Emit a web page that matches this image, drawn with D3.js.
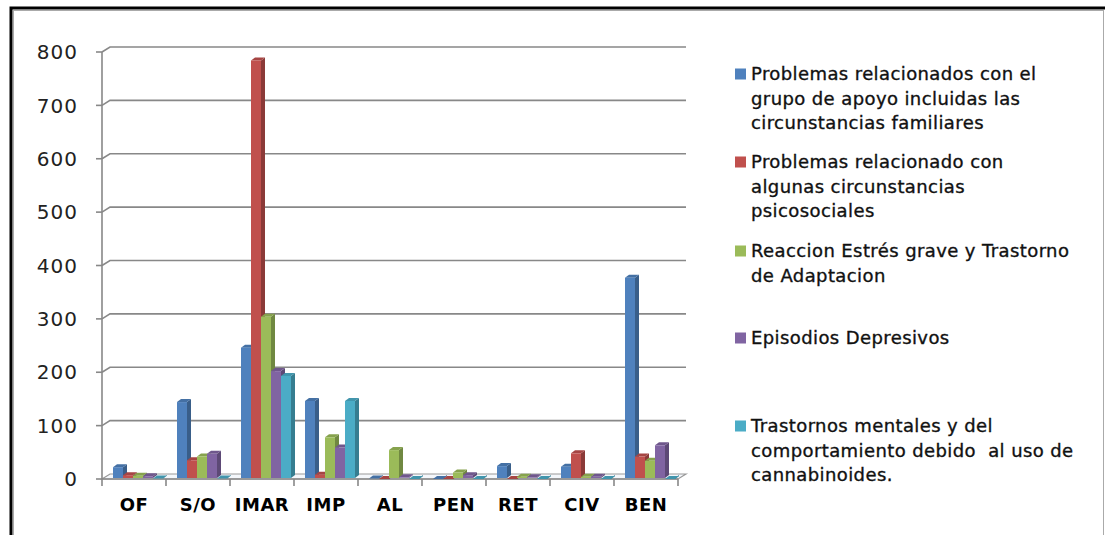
<!DOCTYPE html>
<html>
<head>
<meta charset="UTF-8" />
<script src="https://d3js.org/d3.v7.min.js"></script>
<style>
  body { margin: 0; background: #fff; }
  svg { display: block; }
</style>
</head>
<body>
<svg id="chart" width="1105" height="535"></svg>
<script>
const categories = ['OF', 'S/O', 'IMAR', 'IMP', 'AL', 'PEN', 'RET', 'CIV', 'BEN'];
const seriesNames = [
  ['Problemas relacionados con el', 'grupo de apoyo incluidas las', 'circunstancias familiares'],
  ['Problemas relacionado con', 'algunas circunstancias', 'psicosociales'],
  ['Reaccion Estrés grave y Trastorno', 'de Adaptacion'],
  ['Episodios Depresivos'],
  ['Trastornos mentales y del', 'comportamiento debido  al uso de', 'cannabinoides.']
];
const grupoApoyo = [24, 146, 248, 148, 3, 2, 26, 25, 379];
const psicosociales = [9, 37, 786, 10, 2, 2, 2, 50, 44];
const estres = [8, 44, 306, 80, 56, 14, 6, 6, 36];
const depresivos = [7, 49, 204, 61, 5, 9, 5, 6, 65];
const cannabinoides = [3, 3, 195, 148, 2, 2, 2, 2, 2];
const yTicks = [0, 100, 200, 300, 400, 500, 600, 700, 800];
const colors = ['#4f81bd', '#c0504d', '#9bbb59', '#8064a2', '#4bacc6'];

const series = [grupoApoyo, psicosociales, estres, depresivos, cannabinoides];

const svg = d3.select('#chart');

// marco
svg.append('rect').attr('x', 11).attr('y', 8).attr('width', 1100).attr('height', 540)
  .attr('fill', 'none').attr('stroke', '#000').attr('stroke-width', 3);
svg.append('rect').attr('x', 13.5).attr('y', 10.5).attr('width', 1090).attr('height', 540)
  .attr('fill', 'none').attr('stroke', '#aaa').attr('stroke-width', 1);

const plotL = 102, plotR = 678, plotB = 479, plotT = 52;
const dx = 8, dy = -5; // profundidad del fondo

const x = d3.scaleBand().domain(categories).range([plotL, plotR]).paddingInner(0).paddingOuter(0);
const y = d3.scaleLinear().domain([0, 800]).range([plotB, plotT]);
const xs = d3.scaleBand().domain(d3.range(series.length)).range([11, 61]);

// suelo
svg.append('path')
  .attr('d', `M${plotL},${plotB}L${plotR},${plotB}L${plotR + dx},${plotB + dy}L${plotL + dx},${plotB + dy}Z`)
  .attr('fill', '#f4f7fb').attr('stroke', '#999').attr('stroke-width', 1.2);

// rejilla
const grid = svg.append('g').attr('stroke', '#888').attr('stroke-width', 1.6).attr('fill', 'none');
yTicks.forEach(t => {
  if (t > 0) {
    grid.append('path').attr('d', `M${plotL},${y(t)}L${plotL + dx},${y(t) + dy}L${plotR + dx},${y(t) + dy}`);
  }
  grid.append('line').attr('x1', plotL - 6).attr('x2', plotL).attr('y1', y(t)).attr('y2', y(t));
});
grid.append('line').attr('x1', plotL).attr('x2', plotL).attr('y1', plotT).attr('y2', plotB);
grid.append('line').attr('x1', plotL).attr('x2', plotR).attr('y1', plotB).attr('y2', plotB);
categories.forEach(c => {
  const xx = x(c);
  grid.append('line').attr('x1', xx).attr('x2', xx).attr('y1', plotB).attr('y2', plotB + 7);
});
grid.append('line').attr('x1', plotR).attr('x2', plotR).attr('y1', plotB).attr('y2', plotB + 7);

// barras 3D
const bw = xs.bandwidth();
const bdx = 4, bdy = -3;
const bars = svg.append('g');
series.forEach((vals, si) => {
  const col = d3.color(colors[si]);
  vals.forEach((v, ci) => {
    const x0 = x(categories[ci]) + xs(si);
    const y0 = y(v) + 1, yb = plotB - 1;
    const g = bars.append('g');
    g.append('path')
      .attr('d', `M${x0 + bw},${y0}L${x0 + bw + bdx},${y0 + bdy}L${x0 + bw + bdx},${yb + bdy}L${x0 + bw},${yb}Z`)
      .attr('fill', col.darker(0.9));
    g.append('path')
      .attr('d', `M${x0},${y0}L${x0 + bdx},${y0 + bdy}L${x0 + bw + bdx},${y0 + bdy}L${x0 + bw},${y0}Z`)
      .attr('fill', col.darker(0.4));
    g.append('rect').attr('x', x0).attr('y', y0).attr('width', bw).attr('height', Math.max(0, yb - y0))
      .attr('fill', col);
  });
});

// etiquetas eje y
svg.append('g').selectAll('text').data(yTicks).join('text')
  .attr('x', 78).attr('y', d => y(d)).attr('dy', '0.36em')
  .attr('text-anchor', 'end')
  .attr('font-family', 'DejaVu Sans').attr('font-size', 20).attr('letter-spacing', 1).attr('fill', '#222')
  .text(d => d);

// etiquetas categorías
svg.append('g').selectAll('text').data(categories).join('text')
  .attr('x', d => x(d) + x.bandwidth() / 2).attr('y', 505).attr('dy', '0.36em')
  .attr('text-anchor', 'middle')
  .attr('font-family', 'DejaVu Sans').attr('font-weight', 'bold').attr('font-size', 18)
  .attr('letter-spacing', 0.5).attr('fill', '#000')
  .text(d => d);

// leyenda
const legendY = [74, 162, 251, 338, 426];
const lg = svg.append('g');
seriesNames.forEach((lines, i) => {
  lg.append('rect').attr('x', 735).attr('y', legendY[i] - 5.5).attr('width', 11).attr('height', 11)
    .attr('fill', colors[i]);
  lines.forEach((ln, j) => {
    lg.append('text').attr('x', 751).attr('y', legendY[i] + j * 24.5).attr('dy', '0.36em')
      .attr('font-family', 'DejaVu Sans').attr('font-size', 18).attr('letter-spacing', 0.4)
      .attr('fill', '#111').attr('stroke', '#111').attr('stroke-width', 0.35)
      .attr('xml:space', 'preserve')
      .text(ln);
  });
});
</script>
</body>
</html>
